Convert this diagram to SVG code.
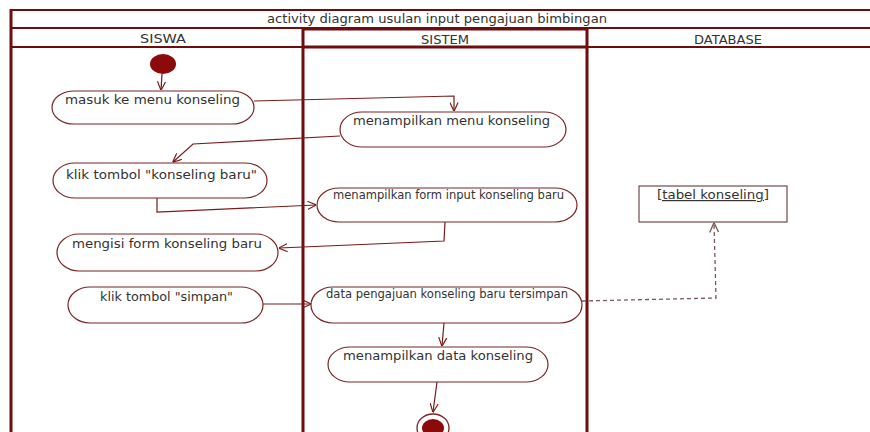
<svg xmlns="http://www.w3.org/2000/svg" width="870" height="432" viewBox="0 0 870 432">
  <defs>
    <style>
      .frame { stroke: #6e0d0d; fill: none; }
      .thin { stroke-width: 2; }
      .thick { stroke-width: 3; }
      .act { fill: #ffffff; stroke: #7a2424; stroke-width: 1.2; }
      .lbl { font-family: "DejaVu Sans", Verdana, sans-serif; font-size: 12px; fill: #333333; }
      .hdr { font-family: "DejaVu Sans", Verdana, sans-serif; font-size: 12px; fill: #333333; text-anchor: middle; }
      .flow { fill: none; stroke: #7a1a1a; stroke-width: 1.2; marker-end: url(#open); }
      .dep { fill: none; stroke: #7a5858; stroke-width: 1.3; stroke-dasharray: 4 3; marker-end: url(#openDep); }
      .dot { fill: #8c0a0a; }
    </style>
    <marker id="open" viewBox="0 0 10 10" refX="9.5" refY="5" markerWidth="9" markerHeight="9" markerUnits="userSpaceOnUse" orient="auto">
      <path d="M0,0.5 L10,5 L0,9.5" fill="none" stroke="#7a1a1a" stroke-width="1.3"/>
    </marker>
    <marker id="openDep" viewBox="0 0 10 10" refX="9.5" refY="5" markerWidth="10" markerHeight="10" markerUnits="userSpaceOnUse" orient="auto">
      <path d="M0,0.5 L10,5 L0,9.5" fill="none" stroke="#7a5858" stroke-width="1.3"/>
    </marker>
  </defs>

  <rect x="0" y="0" width="870" height="432" fill="#ffffff"/>

  <!-- frame, title row and swimlanes -->
  <g id="frame">
    <line class="frame thin" x1="10" y1="10" x2="870" y2="10"/>
    <line class="frame thin" x1="10" y1="28" x2="870" y2="28"/>
    <line class="frame thin" x1="10" y1="47" x2="870" y2="47"/>
    <line class="frame thick" x1="11" y1="9" x2="11" y2="432"/>
    <text class="hdr" x="437" y="23" textLength="340" lengthAdjust="spacingAndGlyphs">activity diagram usulan input pengajuan bimbingan</text>
  </g>
  <g id="lane-siswa">
    <text class="hdr" x="163" y="43" textLength="46" lengthAdjust="spacingAndGlyphs">SISWA</text>
  </g>
  <g id="lane-sistem">
    <line class="frame thick" x1="303" y1="29" x2="587" y2="29"/>
    <line class="frame thick" x1="303" y1="47" x2="587" y2="47"/>
    <line class="frame thick" x1="303" y1="28" x2="303" y2="432"/>
    <line class="frame thick" x1="587" y1="28" x2="587" y2="432"/>
    <text class="hdr" x="445" y="44" textLength="48" lengthAdjust="spacingAndGlyphs">SISTEM</text>
  </g>
  <g id="lane-database">
    <text class="hdr" x="728" y="44" textLength="68" lengthAdjust="spacingAndGlyphs">DATABASE</text>
  </g>

  <!-- control flows -->
  <g id="connectors">
    <polyline class="flow" points="162,74 161,90"/>
    <polyline class="flow" points="254,101 454,96 454,111"/>
    <polyline class="flow" points="340,136 193,144 173,162"/>
    <polyline class="flow" points="157,198 157,212 316,205"/>
    <polyline class="flow" points="445,222 444,241 279,248"/>
    <polyline class="flow" points="263,304 311,304"/>
    <polyline class="flow" points="444,323 442,346"/>
    <polyline class="flow" points="437,382 433,412"/>
    <polyline class="dep" points="582,301 716,298 714,223"/>
  </g>

  <!-- nodes -->
  <g id="start">
    <ellipse class="dot" cx="163" cy="64" rx="13" ry="10"/>
  </g>
  <g id="masuk-menu">
    <rect class="act" x="52" y="91" width="202" height="33" rx="22" ry="16.5"/>
    <text class="lbl" x="65" y="104" textLength="175" lengthAdjust="spacingAndGlyphs">masuk ke menu konseling</text>
  </g>
  <g id="tampil-menu">
    <rect class="act" x="340" y="112" width="226" height="35" rx="22" ry="17.5"/>
    <text class="lbl" x="353" y="125" textLength="197" lengthAdjust="spacingAndGlyphs">menampilkan menu konseling</text>
  </g>
  <g id="klik-baru">
    <rect class="act" x="53" y="163" width="214" height="35" rx="22" ry="17.5"/>
    <text class="lbl" x="66" y="179" textLength="191" lengthAdjust="spacingAndGlyphs">klik tombol "konseling baru"</text>
  </g>
  <g id="tampil-form">
    <rect class="act" x="317" y="188" width="260" height="34" rx="22" ry="17"/>
    <text class="lbl" x="333" y="199" font-size="10.5" textLength="231" lengthAdjust="spacingAndGlyphs">menampilkan form input konseling baru</text>
  </g>
  <g id="isi-form">
    <rect class="act" x="57" y="234" width="221" height="37" rx="22" ry="18.5"/>
    <text class="lbl" x="72" y="248" textLength="190" lengthAdjust="spacingAndGlyphs">mengisi form konseling baru</text>
  </g>
  <g id="klik-simpan">
    <rect class="act" x="68" y="287" width="195" height="36" rx="22" ry="18"/>
    <text class="lbl" x="100" y="301" textLength="133" lengthAdjust="spacingAndGlyphs">klik tombol "simpan"</text>
  </g>
  <g id="data-tersimpan">
    <rect class="act" x="311" y="287" width="271" height="36" rx="22" ry="18"/>
    <text class="lbl" x="326" y="298" font-size="10.5" textLength="242" lengthAdjust="spacingAndGlyphs">data pengajuan konseling baru tersimpan</text>
  </g>
  <g id="tampil-data">
    <rect class="act" x="328" y="347" width="220" height="35" rx="22" ry="17.5"/>
    <text class="lbl" x="343" y="360" textLength="190" lengthAdjust="spacingAndGlyphs">menampilkan data konseling</text>
  </g>
  <g id="tabel-konseling">
    <rect x="639" y="186" width="148" height="36" fill="#ffffff" stroke="#6e4c4c" stroke-width="1.2"/>
    <text class="lbl" x="713" y="199" text-anchor="middle" text-decoration="underline" fill="#444444" textLength="112" lengthAdjust="spacingAndGlyphs">[tabel konseling]</text>
  </g>
  <g id="end">
    <ellipse cx="433" cy="428" rx="16" ry="14" fill="#ffffff" stroke="#7a2424" stroke-width="1.3"/>
    <ellipse class="dot" cx="433" cy="428" rx="11" ry="9"/>
  </g>
</svg>
